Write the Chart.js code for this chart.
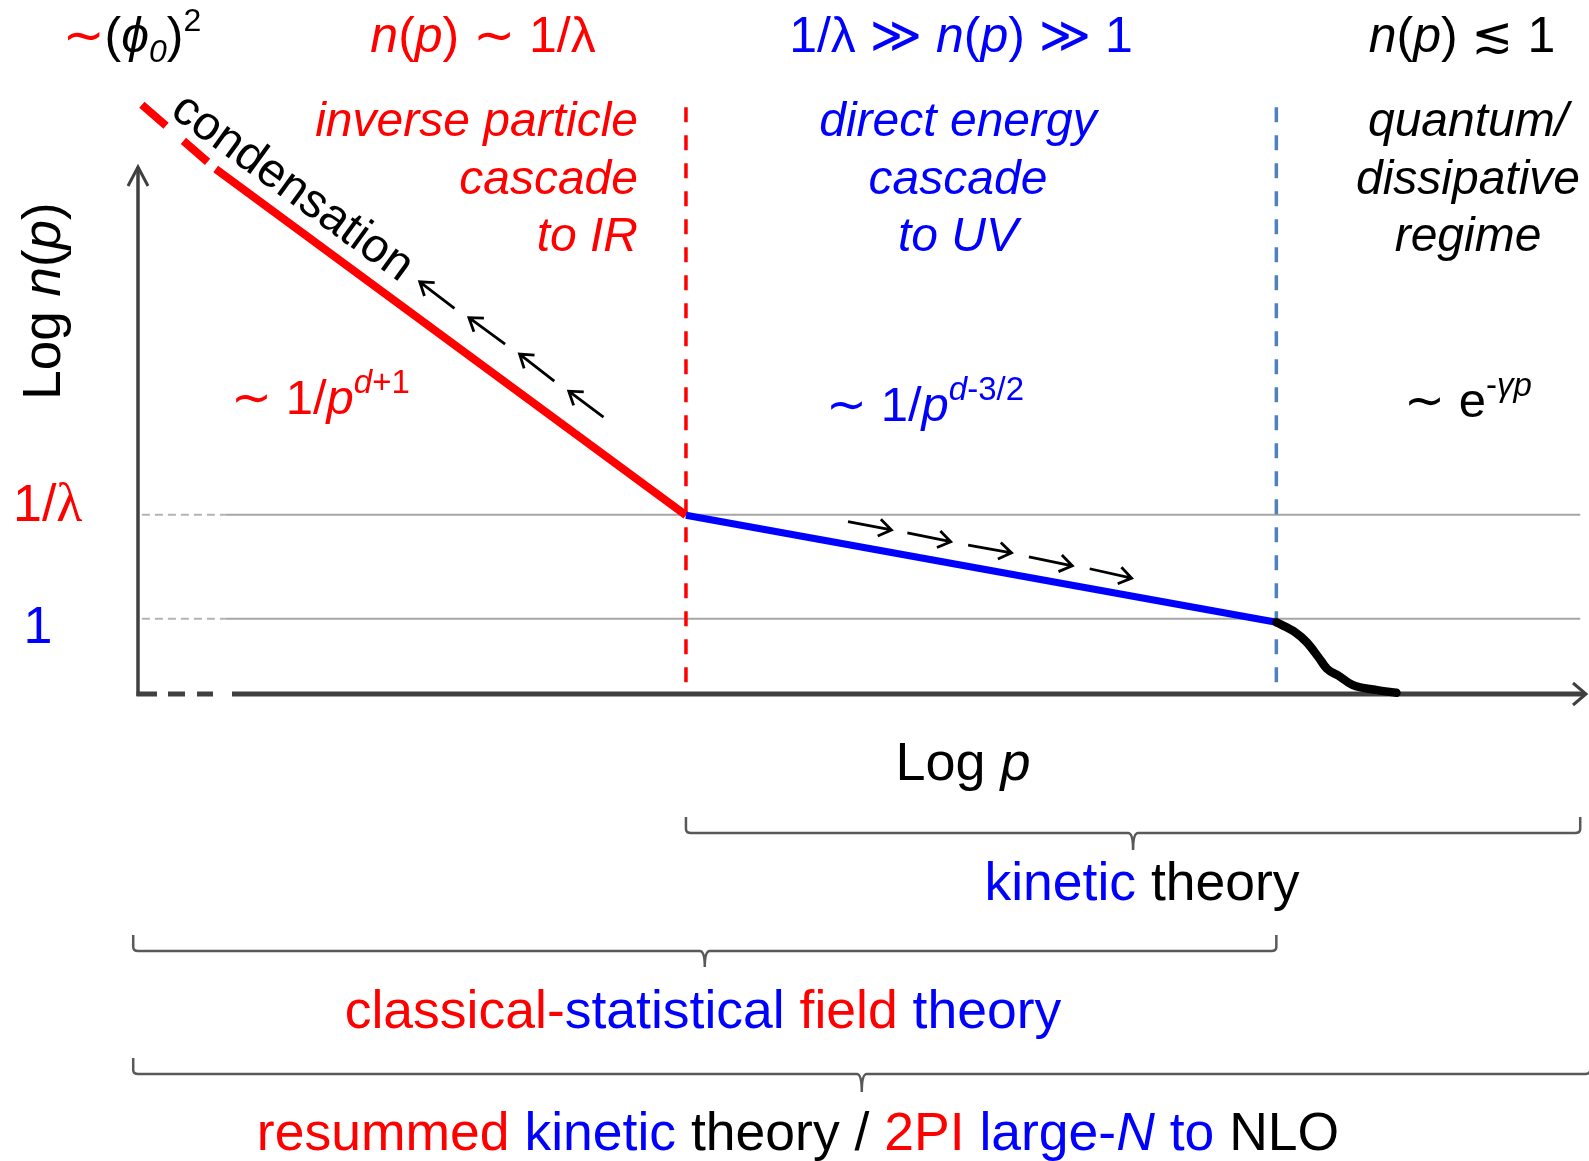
<!DOCTYPE html>
<html>
<head>
<meta charset="utf-8">
<script src="https://cdn.jsdelivr.net/npm/chart.js@4/dist/chart.umd.min.js"></script>
<style>
  html, body { margin: 0; padding: 0; background: #fff; }
  canvas { display: block; }
</style>
</head>
<body>
<canvas id="c" width="1589" height="1161"></canvas>
<script>
// axes are in arbitrary log units: x = log p, y = log n(p)
const xRange = [0, 10];
const yRange = [0, 10];

// regime boundaries (log p) and reference levels (log n)
const xBoundaries = [3.78, 7.86];          // IR/UV crossover, onset of quantum regime
const yLevels = [3.05, 1.28];              // 1/lambda, 1

// spectrum pieces
const condX = [0.02, 0.53];
const condY = [10.02, 8.93];
const irX = [0.53, 3.78];
const irY = [8.93, 3.04];
const uvX = [3.78, 7.86];
const uvY = [3.04, 1.22];
const tailX = [7.86, 7.99, 8.07, 8.15, 8.21, 8.29, 8.39, 8.55, 8.69];
const tailY = [1.22, 1.05, 0.88, 0.63, 0.43, 0.31, 0.15, 0.07, 0.02];

// small cascade arrows (tail -> tip), in the same log units
const irArrowTailX = [2.18, 2.53, 2.87, 3.21];
const irArrowTailY = [6.56, 5.95, 5.32, 4.71];
const irArrowTipX = [1.94, 2.28, 2.63, 2.97];
const irArrowTipY = [7.01, 6.40, 5.78, 5.15];
const uvArrowTailX = [4.90, 5.31, 5.73, 6.15, 6.57];
const uvArrowTailY = [2.93, 2.74, 2.53, 2.33, 2.13];
const uvArrowTipX = [5.20, 5.61, 6.03, 6.45, 6.86];
const uvArrowTipY = [2.79, 2.59, 2.40, 2.18, 1.97];

// brackets underneath (from, to in log p)
const bracketFrom = [3.78, -0.04, -0.04];
const bracketTo = [9.96, 7.86, 10.03];

const RED = '#ff0000', BLUE = '#0000ff', BLACK = '#000000';
const SANS = '"Liberation Sans", Arial, "DejaVu Sans", sans-serif';
const SERIF = '"Liberation Serif", "DejaVu Serif", serif';
const N = s => s + 'px ' + SANS;
const I = s => 'italic ' + s + 'px ' + SANS;

function pts(xs, ys) { return xs.map((x, i) => ({ x: x, y: ys[i] })); }

function line(xs, ys, color, width, extra) {
    return Object.assign({
        data: pts(xs, ys),
        showLine: true,
        borderColor: color,
        borderWidth: width,
        pointRadius: 0,
        fill: false,
        clip: false,
        tension: 0,
        borderCapStyle: 'butt'
    }, extra || {});
}

// draws runs of differently styled text one after another
function rich(ctx, parts, x, y, align) {
    let w = 0;
    parts.forEach(p => { ctx.font = p[2]; w += ctx.measureText(p[0]).width; });
    let cx = align === 'center' ? x - w / 2 : (align === 'right' ? x - w : x);
    ctx.textAlign = 'left';
    ctx.textBaseline = 'alphabetic';
    parts.forEach(p => {
        ctx.font = p[2];
        ctx.fillStyle = p[1];
        ctx.fillText(p[0], cx, y + (p[3] || 0));
        cx += ctx.measureText(p[0]).width;
    });
}

function arrow(ctx, x0, y0, x1, y1, head) {
    const a = Math.atan2(y1 - y0, x1 - x0);
    ctx.beginPath();
    ctx.moveTo(x0, y0);
    ctx.lineTo(x1, y1);
    ctx.moveTo(x1 - head * Math.cos(a - 0.6), y1 - head * Math.sin(a - 0.6));
    ctx.lineTo(x1, y1);
    ctx.lineTo(x1 - head * Math.cos(a + 0.6), y1 - head * Math.sin(a + 0.6));
    ctx.stroke();
}

function brace(ctx, l, r, top, mid, tip) {
    const c = (l + r) / 2;
    ctx.beginPath();
    ctx.moveTo(l, top);
    ctx.lineTo(l, mid - 4);
    ctx.quadraticCurveTo(l, mid, l + 5, mid);
    ctx.lineTo(c - 5, mid);
    ctx.quadraticCurveTo(c, mid, c, tip);
    ctx.moveTo(c, tip);
    ctx.quadraticCurveTo(c, mid, c + 5, mid);
    ctx.lineTo(r - 5, mid);
    ctx.quadraticCurveTo(r, mid, r, mid - 4);
    ctx.lineTo(r, top);
    ctx.stroke();
}

const sketch = {
    id: 'sketch',
    beforeDraw(chart) {
        const ctx = chart.ctx;
        ctx.save();
        ctx.fillStyle = '#fff';
        ctx.fillRect(0, 0, chart.width, chart.height);
        ctx.restore();
    },
    beforeDatasetsDraw(chart) {
        const ctx = chart.ctx, xs = chart.scales.x, ys = chart.scales.y;
        const x0 = xs.getPixelForValue(0) - 1, y0 = ys.getPixelForValue(0);
        ctx.save();
        ctx.strokeStyle = '#404040';
        // y axis
        ctx.lineWidth = 3.5;
        ctx.beginPath();
        ctx.moveTo(x0, y0 + 2);
        ctx.lineTo(x0, 167);
        ctx.stroke();
        ctx.lineWidth = 3;
        ctx.beginPath();
        ctx.moveTo(x0 - 10, 186);
        ctx.lineTo(x0, 167);
        ctx.lineTo(x0 + 10, 186);
        ctx.stroke();
        // x axis, dashed near the origin
        ctx.lineWidth = 5;
        ctx.beginPath();
        ctx.moveTo(x0 - 1.5, y0); ctx.lineTo(157, y0);
        ctx.moveTo(168, y0); ctx.lineTo(185, y0);
        ctx.moveTo(197, y0); ctx.lineTo(213, y0);
        ctx.moveTo(232, y0); ctx.lineTo(1584, y0);
        ctx.stroke();
        ctx.lineWidth = 3;
        ctx.beginPath();
        ctx.moveTo(1573, y0 - 11);
        ctx.lineTo(1586, y0);
        ctx.lineTo(1573, y0 + 11);
        ctx.stroke();
        ctx.restore();
    },
    afterDatasetsDraw(chart) {
        const ctx = chart.ctx, xs = chart.scales.x, ys = chart.scales.y;
        const px = v => xs.getPixelForValue(v), py = v => ys.getPixelForValue(v);
        ctx.save();

        // cascade arrows
        ctx.strokeStyle = BLACK;
        ctx.lineWidth = 2.8;
        ctx.lineCap = 'butt';
        irArrowTipX.forEach((x, i) => arrow(ctx, px(irArrowTailX[i]), py(irArrowTailY[i]), px(x), py(irArrowTipY[i]), 15));
        uvArrowTipX.forEach((x, i) => arrow(ctx, px(uvArrowTailX[i]), py(uvArrowTailY[i]), px(x), py(uvArrowTipY[i]), 15));

        // brackets
        ctx.strokeStyle = '#595959';
        ctx.lineWidth = 2.5;
        brace(ctx, px(bracketFrom[0]), px(bracketTo[0]), 817, 833, 850);
        brace(ctx, px(bracketFrom[1]), px(bracketTo[1]), 935, 951, 967);
        brace(ctx, px(bracketFrom[2]), px(bracketTo[2]), 1058, 1074, 1092);

        // condensation, along the red line
        ctx.save();
        ctx.translate(292, 188);
        ctx.rotate(36 * Math.PI / 180);
        ctx.font = N(48);
        ctx.fillStyle = BLACK;
        ctx.textAlign = 'center';
        ctx.textBaseline = 'middle';
        ctx.fillText('condensation', 0, 0);
        ctx.restore();

        // top row
        rich(ctx, [['\u223C', RED, N(50)], ['(', BLACK, N(50)], ['\u03D5', BLACK, I(50)],
                   ['0', BLACK, I(32), 10], [')', BLACK, N(50)], ['2', BLACK, N(32), -21]], 132, 52, 'center');
        rich(ctx, [['n', RED, I(50)], ['(', RED, N(50)], ['p', RED, I(50)], [')', RED, N(50)],
                   [' \u223C 1/\u03BB', RED, N(50)]], 483, 52, 'center');
        rich(ctx, [['1/\u03BB \u226B ', BLUE, N(50)], ['n', BLUE, I(50)], ['(', BLUE, N(50)], ['p', BLUE, I(50)],
                   [')', BLUE, N(50)], [' \u226B 1', BLUE, N(50)]], 961, 52, 'center');
        rich(ctx, [['n', BLACK, I(50)], ['(', BLACK, N(50)], ['p', BLACK, I(50)], [')', BLACK, N(50)],
                   [' \u2272 1', BLACK, N(50)]], 1462, 52, 'center');

        // regime descriptions
        const base = [136, 194, 251];
        ['inverse particle', 'cascade', 'to IR'].forEach((t, i) => rich(ctx, [[t, RED, I(48)]], 638, base[i], 'right'));
        ['direct energy', 'cascade', 'to UV'].forEach((t, i) => rich(ctx, [[t, BLUE, I(48)]], 958, base[i], 'center'));
        ['quantum/', 'dissipative', 'regime'].forEach((t, i) => rich(ctx, [[t, BLACK, I(48)]], 1468, base[i], 'center'));

        // power laws
        rich(ctx, [['\u223C 1/', RED, N(49)], ['p', RED, I(49)], ['d', RED, I(33), -21], ['+1', RED, N(33), -21]], 231, 414, 'left');
        rich(ctx, [['\u223C 1/', BLUE, N(49)], ['p', BLUE, I(49)], ['d', BLUE, I(33), -21], ['-3/2', BLUE, N(33), -21]], 826, 421, 'left');
        rich(ctx, [['\u223C e', BLACK, N(49)], ['-', BLACK, N(33), -21], ['\u03B3p', BLACK, I(33), -21]], 1404, 417, 'left');

        // level labels on the y axis
        rich(ctx, [['1/', RED, N(52)], ['\u03BB', RED, 54 + 'px ' + SERIF]], 13, py(yLevels[0]) + 6, 'left');
        rich(ctx, [['1', BLUE, N(52)]], 38, py(yLevels[1]) + 24, 'center');

        // axis titles
        ctx.save();
        ctx.translate(60, 301);
        ctx.rotate(-Math.PI / 2);
        rich(ctx, [['Log ', BLACK, N(53)], ['n', BLACK, I(53)], ['(', BLACK, N(53)], ['p', BLACK, I(53)], [')', BLACK, N(53)]], 0, 0, 'center');
        ctx.restore();
        rich(ctx, [['Log ', BLACK, N(54)], ['p', BLACK, I(54)]], 963, 780, 'center');

        // bracket captions
        rich(ctx, [['kinetic', BLUE, N(53.5)], [' theory', BLACK, N(53.5)]], 1142, 900, 'center');
        rich(ctx, [['classical-', RED, N(53.5)], ['statistical', BLUE, N(53.5)], [' field', RED, N(53.5)],
                   [' theory', BLUE, N(53.5)]], 703, 1028, 'center');
        rich(ctx, [['resummed', RED, N(53.5)], [' kinetic', BLUE, N(53.5)], [' theory / ', BLACK, N(53.5)],
                   ['2PI', RED, N(53.5)], [' large-', BLUE, N(53.5)], ['N', BLUE, I(53.5)], [' to', BLUE, N(53.5)],
                   [' NLO', BLACK, N(53.5)]], 798, 1150, 'center');

        ctx.restore();
    }
};

const gridDash = { borderDash: c => c.p0DataIndex === 0 ? [8, 5] : undefined,
                   borderColor: c => c.p0DataIndex === 0 ? '#b4b4b4' : '#a6a6a6' };

new Chart(document.getElementById('c'), {
    type: 'scatter',
    data: {
        datasets: [
            line(tailX, tailY, BLACK, 8.5, { cubicInterpolationMode: 'monotone', borderCapStyle: 'round' }),
            line(uvX, uvY, BLUE, 7),
            line(irX, irY, RED, 8),
            line(condX, condY, RED, 8, { borderDash: [32, 23] }),
            line([xBoundaries[0], xBoundaries[0]], [9.98, 0.08], RED, 3.5, { borderDash: [15, 13] }),
            line([xBoundaries[1], xBoundaries[1]], [9.98, 0.08], '#4f81bd', 3.5, { borderDash: [15, 13] }),
            line([0.02, 0.6, 9.96], [yLevels[0], yLevels[0], yLevels[0]], '#a6a6a6', 2, { segment: gridDash }),
            line([0.02, 0.6, 9.96], [yLevels[1], yLevels[1], yLevels[1]], '#a6a6a6', 2, { segment: gridDash })
        ]
    },
    options: {
        responsive: false,
        animation: false,
        devicePixelRatio: 1,
        layout: { padding: { left: 139, right: 3, top: 106, bottom: 467 } },
        plugins: { legend: { display: false }, tooltip: { enabled: false } },
        scales: {
            x: { type: 'linear', min: xRange[0], max: xRange[1], display: false },
            y: { type: 'linear', min: yRange[0], max: yRange[1], display: false }
        }
    },
    plugins: [sketch]
});
</script>
</body>
</html>
